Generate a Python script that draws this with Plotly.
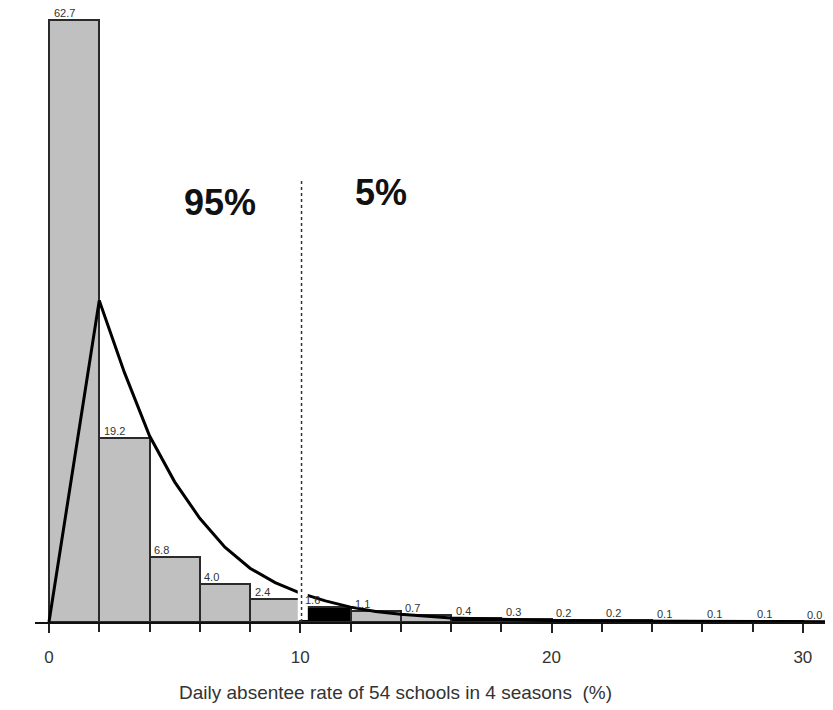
import plotly.graph_objects as go

# Histogram data (bin left edges, width 2)
bin_left = [0, 2, 4, 6, 8, 10, 12, 14, 16, 18, 20, 22, 24, 26, 28, 30]
bin_values = [62.7, 19.2, 6.8, 4.0, 2.4, 1.6, 1.1, 0.7, 0.4, 0.3, 0.2, 0.2, 0.1, 0.1, 0.1, 0.0]
bin_labels = ["62.7", "19.2", "6.8", "4.0", "2.4", "1.6", "1.1", "0.7", "0.4", "0.3",
              "0.2", "0.2", "0.1", "0.1", "0.1", "0.0"]
bin_dark = [False, False, False, False, False, True, False, False, True, True,
            True, True, True, True, True, True]

# Fitted curve
curve_x = [0, 2, 3, 4, 5, 6, 7, 8, 9, 10, 11, 12, 13, 14, 16, 18, 20, 22, 24, 26, 28, 30, 31.5]
curve_y = [0, 33.5, 26.0, 19.4, 14.6, 10.8, 7.8, 5.6, 4.1, 3.0, 2.2, 1.55, 1.1, 0.8, 0.42,
           0.25, 0.15, 0.1, 0.07, 0.05, 0.03, 0.02, 0.01]

cutoff = 10
tick_vals = [0, 10, 20, 30]
x_title = "Daily absentee rate of 54 schools in 4 seasons  (%)"

BIN_W = 2
fig = go.Figure()
fig.add_trace(go.Bar(
    x=[b + BIN_W / 2 for b in bin_left],
    y=bin_values,
    width=BIN_W,
    marker=dict(
        color=["#000000" if d else "#c0c0c0" for d in bin_dark],
        line=dict(color="#2a2a2a", width=2),
    ),
    hoverinfo="skip",
))
fig.add_trace(go.Scatter(
    x=curve_x, y=curve_y, mode="lines",
    line=dict(color="#000000", width=3),
    hoverinfo="skip",
))

# Value labels above bars
for b, v, t in zip(bin_left, bin_values, bin_labels):
    fig.add_annotation(x=b + 0.1, y=v, text=t, showarrow=False,
                       xanchor="left", yanchor="bottom", yshift=-1,
                       font=dict(family="Liberation Sans, Arial", size=11, color="#333"))

# white gap + dashed cutoff line
fig.add_shape(type="rect", x0=cutoff - 0.1, x1=cutoff + 0.3, y0=0.2, y1=47,
              fillcolor="white", line=dict(width=0), layer="above")
fig.add_shape(type="line", x0=cutoff + 0.05, x1=cutoff + 0.05, y0=0, y1=46,
              line=dict(color="#333", width=1.5, dash="dot"), layer="above")

fig.add_annotation(x=6.8, y=43.7, text="<b>95%</b>", showarrow=False,
                   font=dict(family="Liberation Sans, Arial", size=36, color="#111"))
fig.add_annotation(x=13.2, y=44.7, text="<b>5%</b>", showarrow=False,
                   font=dict(family="Liberation Sans, Arial", size=36, color="#111"))

fig.add_annotation(x=13.8, y=0, yref="y", yshift=-70, text=x_title, showarrow=False,
                   font=dict(family="Liberation Sans, Arial", size=19, color="#333"))

fig.update_layout(
    width=825, height=702,
    margin=dict(l=27, r=0, t=2, b=88),
    plot_bgcolor="white", paper_bgcolor="white",
    showlegend=False,
    bargap=0,
    xaxis=dict(
        range=[-0.557, 31.2],
        tickvals=tick_vals,
        ticktext=[str(v) for v in tick_vals],
        ticks="outside", ticklen=9, tickwidth=2, tickcolor="#222",
        minor=dict(dtick=2, tick0=0, ticks="outside", ticklen=8, tickwidth=2, tickcolor="#222"),
        showline=True, linecolor="#111", linewidth=2,
        showgrid=False, zeroline=False,
        ticklabelstandoff=10,
        tickfont=dict(family="Liberation Sans, Arial", size=17, color="#333"),
    ),
    yaxis=dict(
        range=[0, 63.75], visible=False, showgrid=False, zeroline=False,
    ),
)

fig.write_html("out.html")
